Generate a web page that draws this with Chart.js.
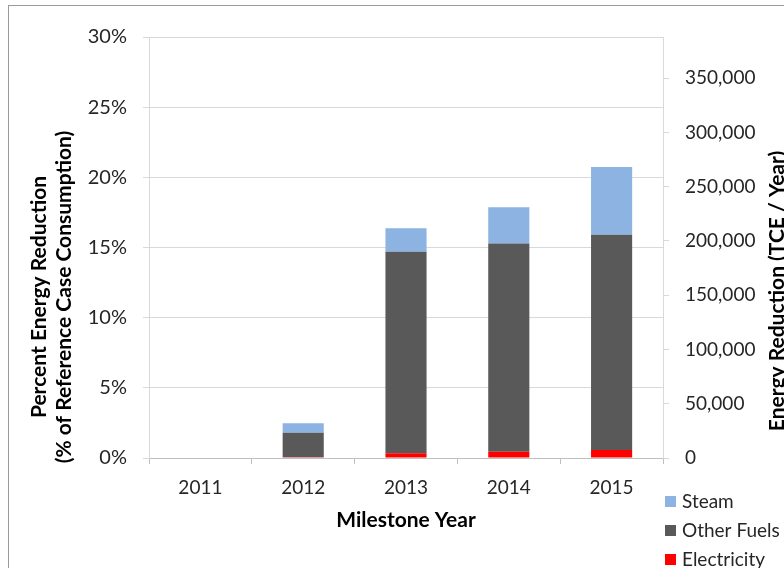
<!DOCTYPE html>
<html>
<head>
<meta charset="utf-8">
<script src="https://cdn.jsdelivr.net/npm/chart.js@4.4.1/dist/chart.umd.min.js"></script>
<style>
    html, body { margin: 0; padding: 0; background: #fff; overflow: hidden; }
    #wrap { position: relative; width: 784px; height: 568px; overflow: hidden; }
    #frame { position: absolute; left: 8px; top: 5px; width: 900px; height: 700px;
             border-left: 1px solid #9a9a9a; border-top: 1px solid #9a9a9a; }
    canvas { position: absolute; left: 0; top: 0; }
</style>
</head>
<body>
<div id="wrap">
    <div id="frame"></div>
    <canvas id="energyChart" width="784" height="568"></canvas>
</div>
<script>
// percent of reference case consumption, per milestone year
const years = ['2011', '2012', '2013', '2014', '2015'];
const electricity = [0, 0.05, 0.33, 0.45, 0.57];
const otherFuels = [0, 1.75, 14.37, 14.83, 15.33];
const steam = [0, 0.67, 1.67, 2.59, 4.84];

const percentMax = 30;
const percentStep = 5;
const tceMax = 388000; // TCE / year equivalent to 30%
const tceTicks = [0, 50000, 100000, 150000, 200000, 250000, 300000, 350000];

const leftTitle = ['Percent Energy Reduction', '(% of Reference Case Consumption)'];
const rightTitle = 'Energy Reduction (TCE / Year)';
const xTitle = 'Milestone Year';

const FONT = 'Lato, "Open Sans", sans-serif';

// axis titles and the stacked legend are drawn by hand, Excel-style
const extrasPlugin = {
    id: 'extras',
    afterDraw: (chart) => {
        const ctx = chart.ctx;
        ctx.save();
        ctx.fillStyle = '#000';
        ctx.font = 'bold 21px ' + FONT;
        ctx.textAlign = 'center';
        ctx.textBaseline = 'alphabetic';

        // left title, two lines
        [46, 71].forEach((x, i) => {
            ctx.save();
            ctx.translate(x, 297);
            ctx.rotate(-Math.PI / 2);
            ctx.fillText(leftTitle[i], 0, 0);
            ctx.restore();
        });

        // right title (runs off the edge like the original)
        ctx.save();
        ctx.translate(784, 291);
        ctx.rotate(-Math.PI / 2);
        ctx.fillText(rightTitle, 0, 0);
        ctx.restore();

        // x title
        ctx.textBaseline = 'middle';
        ctx.fillText(xTitle, 406, 520);

        // legend, top to bottom in reverse stacking order
        ctx.font = '19px ' + FONT;
        ctx.textAlign = 'left';
        const items = chart.data.datasets.slice().reverse();
        items.forEach((ds, i) => {
            const cy = 501 + i * 29;
            ctx.fillStyle = ds.backgroundColor;
            ctx.fillRect(665, cy - 5, 11, 11);
            ctx.fillStyle = '#262626';
            ctx.fillText(ds.label, 682, cy + 1);
        });
        ctx.restore();
    }
};

const ctx = document.getElementById('energyChart').getContext('2d');
new Chart(ctx, {
    type: 'bar',
    data: {
        labels: years,
        datasets: [
            {
                label: 'Electricity',
                data: electricity,
                backgroundColor: '#ff0000',
                borderWidth: 0
            },
            {
                label: 'Other Fuels',
                data: otherFuels,
                backgroundColor: '#595959',
                borderWidth: 0
            },
            {
                label: 'Steam',
                data: steam,
                backgroundColor: '#8db3e2',
                borderWidth: 0
            }
        ]
    },
    options: {
        responsive: false,
        animation: false,
        devicePixelRatio: 1,
        datasets: {
            bar: {
                categoryPercentage: 1,
                barPercentage: 0.4
            }
        },
        layout: {
            padding: { left: 0, right: 0, top: 37, bottom: 0 }
        },
        plugins: {
            legend: { display: false },
            tooltip: { enabled: false }
        },
        scales: {
            x: {
                stacked: true,
                grid: {
                    display: true,
                    drawOnChartArea: false,
                    tickLength: 6,
                    color: '#bfbfbf'
                },
                border: { display: true, color: '#bfbfbf' },
                ticks: {
                    color: '#262626',
                    padding: 12,
                    font: { family: FONT, size: 19 }
                },
                afterFit: (scale) => { scale.height = 110; }
            },
            y: {
                stacked: true,
                position: 'left',
                min: 0,
                max: percentMax,
                grid: {
                    color: '#d9d9d9',
                    tickLength: 6
                },
                border: { display: true, color: '#d9d9d9' },
                ticks: {
                    stepSize: percentStep,
                    color: '#262626',
                    padding: 16,
                    font: { family: FONT, size: 20 },
                    callback: (value) => value + '%'
                },
                afterFit: (scale) => { scale.width = 149; }
            },
            y2: {
                type: 'linear',
                position: 'right',
                min: 0,
                max: tceMax,
                afterBuildTicks: (scale) => {
                    scale.ticks = tceTicks.map(v => ({ value: v }));
                },
                grid: {
                    drawOnChartArea: false,
                    color: '#d9d9d9',
                    tickLength: 6
                },
                border: { display: true, color: '#d9d9d9' },
                ticks: {
                    color: '#262626',
                    padding: 16,
                    font: { family: FONT, size: 19 },
                    callback: (value) => value.toLocaleString('en-US')
                },
                afterFit: (scale) => { scale.width = 121; }
            }
        }
    },
    plugins: [extrasPlugin]
});
</script>
</body>
</html>
